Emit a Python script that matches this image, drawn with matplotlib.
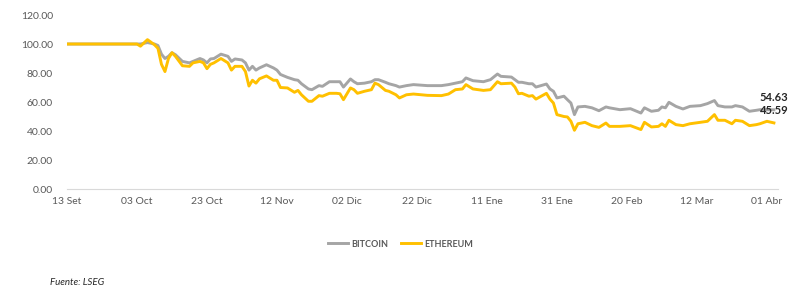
import matplotlib
matplotlib.use("Agg")
import matplotlib.pyplot as plt

plt.rcParams['font.family'] = ['Lato', 'DejaVu Sans']

# dias desde el 13 Set
dias = [0, 20, 21, 23, 25, 26, 27, 28, 29, 30, 31, 33, 35, 36, 38, 39, 40, 41, 42, 44,
        46, 47, 48, 50, 51, 52, 53, 54, 55, 57, 59, 60, 61, 63, 65, 66, 67, 69, 70,
        72, 73, 75, 77, 78, 79, 81, 82, 83, 85, 87, 88, 89, 91, 92, 94, 95, 97, 99,
        103, 107, 109, 111, 113, 114, 116, 119, 121, 123, 124, 127, 128, 129, 130,
        132, 133, 134, 137, 138, 139, 140, 142, 143, 144, 145, 146, 148, 150, 152,
        154, 155, 158, 161, 164, 165, 167, 169, 170, 171, 172, 174, 176, 178, 181,
        183, 185, 186, 188, 190, 191, 193, 195, 197, 198, 200, 202]

bitcoin = [100, 100, 100, 101, 100, 99, 93, 90, 91.5, 94, 92.6, 88, 87, 88, 90, 89, 87,
           89.7, 90, 93, 91.5, 88, 89.7, 89, 87, 82, 84.6, 82, 83.5, 85.7, 83.5, 82,
           79, 77, 75.4, 75, 72.6, 69, 68.5, 71.3, 70.8, 74, 74, 74, 70.3, 75.9, 74,
           72.6, 73, 74, 75.4, 75.4, 73.6, 72.6, 71.3, 70.3, 71.3, 72, 71.3, 71.3, 72,
           73, 74, 76.6, 74.7, 74, 75.4, 79.3, 77.7, 77.2, 75.4, 73.6, 73.6, 72.6,
           72.6, 70.3, 72.4, 69, 67.4, 62.8, 64, 61.6, 59.3, 51.3, 56.6, 57, 56, 54,
           56.6, 56, 54.7, 55.4, 52.4, 56, 53.6, 54.3, 56.6, 56, 59.8, 57, 55.2, 57,
           57.5, 58.9, 61, 57.5, 56.6, 56.6, 57.5, 56.6, 53.6, 54.3, 54.7, 54.7, 54.63]

ethereum = [100, 100, 98.5, 103, 99.5, 97, 86, 81, 90, 94, 91.5, 85, 84.6, 87, 88, 87, 83,
            86, 87, 90, 87, 82, 84.6, 84.6, 81, 71, 75, 73, 76, 78, 75, 75, 70, 69.7,
            66.7, 68, 65, 60.5, 60.5, 64.4, 64, 66, 66, 65.7, 61.6, 69.7, 68.5, 66,
            67.4, 68.5, 73, 72, 68, 67.4, 65, 62.8, 65, 65.5, 64.6, 64.4, 65.5, 68.5,
            69, 72, 69, 68, 68.5, 74, 72.6, 73, 70.3, 65.7, 66, 64, 64.4, 62, 66, 62,
            59.3, 51.3, 50, 49.7, 46.7, 40.5, 45, 46, 43.7, 42.5, 45.5, 43.2, 43.2,
            43.7, 41, 46, 42.8, 43.2, 45, 43.2, 47.4, 44.4, 43.7, 45, 46, 46.7, 51.3,
            47.4, 47.4, 45, 47.4, 46.7, 43.7, 44.4, 45, 46.7, 45.59]

tick_dias = [0, 20, 40, 60, 80, 100, 120, 140, 160, 180, 200]
tick_labels = ['13 Set', '03 Oct', '23 Oct', '12 Nov', '02 Dic', '22 Dic',
               '11 Ene', '31 Ene', '20 Feb', '12 Mar', '01 Abr']

gris = '#A5A5A5'
amarillo = '#FFC000'
texto = '#595959'

fig = plt.figure(figsize=(8.01, 2.92), dpi=100)
ax = fig.add_axes([0.0836, 0.3527, 0.8874, 0.5959])

ax.plot(dias, bitcoin, color=gris, lw=2.1, label='BITCOIN', solid_joinstyle='round')
ax.plot(dias, ethereum, color=amarillo, lw=2.1, label='ETHEREUM', solid_joinstyle='round')

ax.annotate(f'{bitcoin[-1]:.2f}', (dias[-1], bitcoin[-1]), xytext=(0, 5),
            textcoords='offset points', ha='center', va='bottom',
            fontsize=8, fontweight='bold', color='#262626')
ax.annotate(f'{ethereum[-1]:.2f}', (dias[-1], ethereum[-1]), xytext=(0, 5),
            textcoords='offset points', ha='center', va='bottom',
            fontsize=8, fontweight='bold', color='#262626')

ax.set_xlim(0, 203.1)
ax.set_ylim(0, 120)
ax.set_yticks(range(0, 121, 20))
ax.set_yticklabels([f'{v:.2f}' for v in range(0, 121, 20)])
ax.set_xticks(tick_dias)
ax.set_xticklabels(tick_labels)
ax.tick_params(axis='both', length=0, labelsize=7.5, labelcolor=texto)
ax.tick_params(axis='y', pad=10)
ax.tick_params(axis='x', pad=6)

for s in ['top', 'right', 'left']:
    ax.spines[s].set_visible(False)
ax.spines['bottom'].set_color('#D9D9D9')
ax.spines['bottom'].set_linewidth(0.8)

fig.legend(loc='center', bbox_to_anchor=(0.5, 0.164), ncol=2, frameon=False,
           handlelength=2.2, columnspacing=1.5, handletextpad=0.3,
           prop={'size': 6.5, 'weight': 'bold'}, labelcolor=texto)

fig.text(0.0625, 0.024, 'Fuente: LSEG', fontsize=7, style='italic', color='#262626')

fig.savefig('out.png', dpi=100)
